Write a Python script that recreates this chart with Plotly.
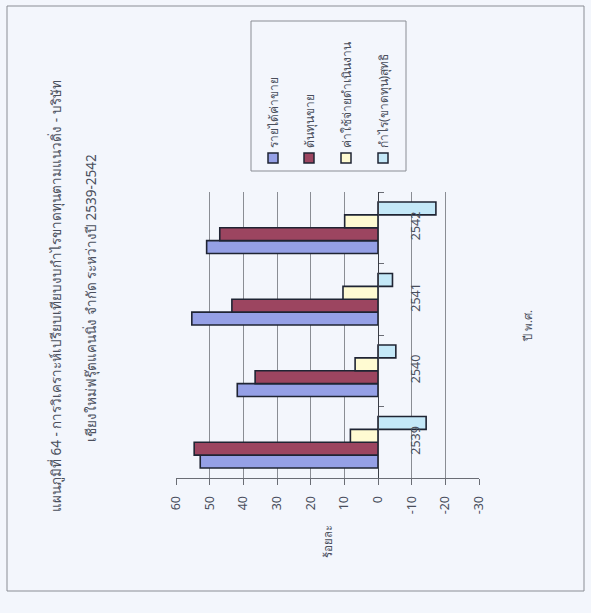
import plotly.graph_objects as go

years = ["2539", "2540", "2541", "2542"]
series_names = ["รายได้ค่าขาย", "ต้นทุนขาย", "ค่าใช้จ่ายดำเนินงาน", "กำไร(ขาดทุน)สุทธิ"]
revenue = [52.8, 41.8, 55.3, 50.9]
cost_of_sales = [54.6, 36.5, 43.4, 47.0]
operating_exp = [8.2, 6.8, 10.4, 9.9]
net_profit = [-14.3, -5.3, -4.3, -17.2]
value_ticks = [60, 50, 40, 30, 20, 10, 0, -10, -20, -30]

title_line1 = "แผนภูมิที่ 64 - การวิเคราะห์เปรียบเทียบงบกำไรขาดทุนตามแนวดิ่ง - บริษัท"
title_line2 = "เชียงใหม่ฟรุ๊ตแคนนิ่ง จำกัด ระหว่างปี 2539-2542"
value_title = "ร้อยละ"
cat_title = "ปี พ.ศ."

fills = ["#95a0e6", "#9c4560", "#fffbd2", "#c4e8f8"]
outline = "#1f2433"
FONT = "Noto Sans, DejaVu Sans, sans-serif"
TXT = "#4a4f5c"
BG = "#f3f6fc"

W, H = 591, 613
L, R, T, B = 176, 479, 192, 478  # plot area in pixels


def px(x):
    return (x - L) / (R - L)


def py(y):
    return (B - y) / (B - T)


fig = go.Figure()
for name, vals, col in zip(series_names, [revenue, cost_of_sales, operating_exp, net_profit], fills):
    fig.add_trace(go.Bar(
        y=years, x=vals, name=name, orientation="h",
        marker=dict(color=col, line=dict(color=outline, width=1.6)),
        showlegend=False,
    ))

zero_pos = (60 - 0) / (60 - (-30))

fig.update_layout(
    width=W, height=H,
    margin=dict(l=L, r=W - R, t=T, b=H - B),
    paper_bgcolor=BG, plot_bgcolor=BG,
    barmode="group", bargap=0.28, bargroupgap=0,
    font=dict(family=FONT, color=TXT, size=11),
    xaxis=dict(
        range=[60, -30], tickvals=value_ticks, ticktext=[str(v) for v in value_ticks],
        showgrid=True, gridcolor="#8a8d94", gridwidth=1,
        showline=True, linecolor="#6a6d75", linewidth=1,
        ticks="outside", ticklen=6, tickcolor="#6a6d75",
        tickangle=-90, tickfont=dict(size=12.5, color=TXT),
        zeroline=False, ticklabelstandoff=6,
    ),
    yaxis=dict(
        type="category", categoryorder="array", categoryarray=years,
        anchor="free", position=zero_pos, side="right",
        showline=True, linecolor="#3a3d45", linewidth=1,
        ticks="outside", ticklen=5, tickcolor="#6a6d75", tickson="boundaries",
        tickangle=-90, tickfont=dict(size=12.5, color=TXT),
        showgrid=False, zeroline=False, ticklabelstandoff=26,
    ),
)

annotations = [
    dict(x=px(56), y=py(296), text=title_line1, textangle=-90, font=dict(size=13.5, color=TXT)),
    dict(x=px(91), y=py(298), text=title_line2, textangle=-90, font=dict(size=13.5, color=TXT)),
    dict(x=px(327), y=py(542), text=value_title, textangle=-90, font=dict(size=11.5, color=TXT)),
    dict(x=px(527), y=py(326), text=cat_title, textangle=-90, font=dict(size=11.5, color=TXT)),
]
shapes = [
    dict(type="rect", xref="paper", yref="paper", x0=px(7), x1=px(584), y0=py(591), y1=py(6),
         line=dict(color="#8a8d94", width=1), fillcolor="rgba(0,0,0,0)", layer="below"),
    dict(type="rect", xref="paper", yref="paper", x0=px(251), x1=px(406), y0=py(171), y1=py(21),
         line=dict(color="#8a8d94", width=1), fillcolor="rgba(0,0,0,0)"),
]
leg_x = [273, 309, 346, 383]
for name, col, lx in zip(series_names, fills, leg_x):
    shapes.append(dict(type="rect", xref="paper", yref="paper",
                       x0=px(lx - 5), x1=px(lx + 5), y0=py(163), y1=py(153),
                       fillcolor=col, line=dict(color=outline, width=1.5)))
    annotations.append(dict(x=px(lx), y=py(150), text=name, textangle=-90,
                            xanchor="center", yanchor="bottom",
                            font=dict(size=12, color=TXT)))
for a in annotations:
    a.update(xref="paper", yref="paper", showarrow=False)
    a.setdefault("xanchor", "center")
    a.setdefault("yanchor", "middle")
fig.update_layout(annotations=annotations, shapes=shapes)

fig.write_html(
    "out.html",
    config={"displayModeBar": False},
    post_script="document.body.style.margin='0';document.body.style.background='%s';" % BG,
)
